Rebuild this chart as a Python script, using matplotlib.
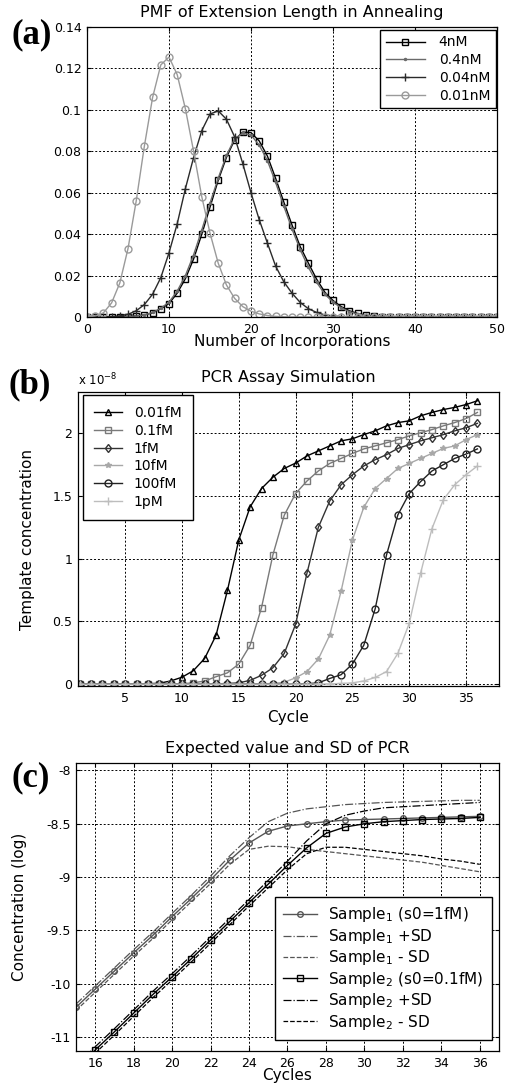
import numpy as np
import matplotlib
matplotlib.use("Agg")
import matplotlib.pyplot as plt

# ---- data ----
# (a) PMF of extension length
incorporations = list(range(0, 51))
pmf_4nM = [0, 0, 0, 0, 0.0001, 0.0002, 0.0005, 0.001, 0.002, 0.004, 0.0065,
           0.0115, 0.0185, 0.028, 0.040, 0.053, 0.066, 0.077, 0.0855, 0.0893, 0.089,
           0.085, 0.0777, 0.067, 0.0555, 0.0444, 0.034, 0.026, 0.0183, 0.012, 0.008,
           0.005, 0.003, 0.0017, 0.0009, 0.0004, 0.0002, 0.0001, 0, 0, 0,
           0, 0, 0, 0, 0, 0, 0, 0, 0, 0]
pmf_04nM = [0, 0, 0, 0, 0.0001, 0.0002, 0.0005, 0.001, 0.0022, 0.0042, 0.0072,
            0.0125, 0.020, 0.030, 0.042, 0.055, 0.067, 0.078, 0.086, 0.0888, 0.0878,
            0.083, 0.0755, 0.065, 0.0535, 0.0425, 0.0325, 0.024, 0.0168, 0.011, 0.0072,
            0.0044, 0.0026, 0.0014, 0.0007, 0.0003, 0.0001, 0, 0, 0, 0,
            0, 0, 0, 0, 0, 0, 0, 0, 0, 0]
pmf_004nM = [0, 0, 0.0001, 0.0002, 0.0005, 0.0013, 0.003, 0.006, 0.011, 0.019, 0.031,
             0.045, 0.062, 0.077, 0.090, 0.098, 0.0995, 0.0955, 0.087, 0.074, 0.060,
             0.047, 0.0357, 0.0246, 0.017, 0.0115, 0.007, 0.004, 0.0022, 0.001, 0.0005,
             0.0002, 0.0001, 0, 0, 0, 0, 0, 0, 0, 0,
             0, 0, 0, 0, 0, 0, 0, 0, 0, 0]
pmf_001nM = [0.0001, 0.0005, 0.002, 0.0068, 0.0164, 0.033, 0.056, 0.0826, 0.106, 0.1217, 0.1255,
             0.117, 0.1005, 0.080, 0.058, 0.0405, 0.026, 0.0155, 0.009, 0.005, 0.0028,
             0.0015, 0.0007, 0.0003, 0.0001, 0, 0, 0, 0, 0, 0,
             0, 0, 0, 0, 0, 0, 0, 0, 0, 0,
             0, 0, 0, 0, 0, 0, 0, 0, 0, 0]

# (b) PCR assay simulation, template concentration in units of 1e-8
cycles_b = list(range(1, 37))
conc_001fM = [0.0001, 0.0001, 0.0002, 0.0004, 0.0008, 0.0016, 0.003, 0.007, 0.025, 0.055,
              0.107, 0.205, 0.39, 0.747, 1.15, 1.414, 1.56, 1.65, 1.72, 1.763,
              1.82, 1.86, 1.90, 1.94, 1.957, 1.99, 2.02, 2.06, 2.086, 2.10,
              2.14, 2.167, 2.19, 2.207, 2.23, 2.26]
conc_01fM = [0, 0, 0, 0, 0.0001, 0.0002, 0.0003, 0.0006, 0.0012, 0.003,
             0.01, 0.025, 0.059, 0.09, 0.16, 0.31, 0.61, 1.03, 1.347, 1.52,
             1.62, 1.70, 1.76, 1.80, 1.84, 1.876, 1.90, 1.925, 1.95, 1.98,
             2.005, 2.03, 2.06, 2.086, 2.118, 2.167]
conc_1fM = [0, 0, 0, 0, 0, 0, 0, 0, 0.0001, 0.0002,
            0.0005, 0.001, 0.002, 0.005, 0.01, 0.03, 0.07, 0.13, 0.245, 0.477,
            0.885, 1.25, 1.46, 1.59, 1.67, 1.74, 1.79, 1.83, 1.88, 1.91,
            1.94, 1.965, 1.99, 2.02, 2.045, 2.08]
conc_10fM = [0, 0, 0, 0, 0, 0, 0, 0, 0, 0,
             0, 0, 0.0001, 0.0002, 0.0004, 0.001, 0.002, 0.005, 0.015, 0.05,
             0.1, 0.2, 0.39, 0.74, 1.15, 1.41, 1.56, 1.64, 1.72, 1.76,
             1.80, 1.84, 1.88, 1.90, 1.95, 1.99]
conc_100fM = [0, 0, 0, 0, 0, 0, 0, 0, 0, 0,
              0, 0, 0, 0, 0, 0, 0.0002, 0.0005, 0.0008, 0.001,
              0.003, 0.01, 0.045, 0.075, 0.16, 0.31, 0.6, 1.03, 1.35, 1.52,
              1.615, 1.70, 1.75, 1.80, 1.835, 1.876]
conc_1pM = [0, 0, 0, 0, 0, 0, 0, 0, 0, 0,
            0, 0, 0, 0, 0, 0, 0, 0, 0, 0.0002,
            0.0005, 0.001, 0.002, 0.005, 0.01, 0.025, 0.053, 0.1, 0.245, 0.485,
            0.885, 1.24, 1.47, 1.59, 1.67, 1.74]

# (c) expected value and SD, log concentration
cycles_c = list(range(15, 37))
s1_mean = [-10.22, -10.05, -9.88, -9.71, -9.545, -9.37, -9.2, -9.025, -8.84, -8.68, -8.57,
           -8.52, -8.50, -8.48, -8.465, -8.46, -8.455, -8.45, -8.445, -8.44, -8.435, -8.43]
s1_plus = [-10.19, -10.02, -9.85, -9.68, -9.515, -9.34, -9.17, -8.99, -8.80, -8.63, -8.48,
           -8.40, -8.36, -8.34, -8.32, -8.31, -8.30, -8.295, -8.29, -8.285, -8.28, -8.28]
s1_minus = [-10.25, -10.08, -9.91, -9.74, -9.575, -9.40, -9.23, -9.06, -8.88, -8.74, -8.71,
            -8.715, -8.74, -8.76, -8.78, -8.80, -8.82, -8.84, -8.86, -8.89, -8.92, -8.95]
s2_mean = [-10.8, -10.62, -10.45, -10.275, -10.10, -9.935, -9.765, -9.59, -9.415, -9.24, -9.065,
           -8.89, -8.725, -8.59, -8.53, -8.50, -8.48, -8.47, -8.46, -8.455, -8.45, -8.44]
s2_plus = [-10.77, -10.59, -10.42, -10.245, -10.07, -9.905, -9.735, -9.56, -9.385, -9.21, -9.03,
           -8.85, -8.66, -8.50, -8.42, -8.38, -8.35, -8.34, -8.33, -8.32, -8.31, -8.30]
s2_minus = [-10.83, -10.65, -10.48, -10.305, -10.13, -9.965, -9.795, -9.62, -9.445, -9.27, -9.10,
            -8.93, -8.78, -8.72, -8.72, -8.74, -8.76, -8.78, -8.80, -8.83, -8.85, -8.88]

W, H = 510, 1091
fig = plt.figure(figsize=(W / 100, H / 100), dpi=100)


def box(left, top, right, bottom):
    # pixel box -> figure fraction
    return [left / W, 1 - bottom / H, (right - left) / W, (bottom - top) / H]


def style_axes(ax):
    ax.grid(True, color="black", linestyle=(0, (2, 2)), linewidth=0.7)
    ax.tick_params(direction="in", top=True, right=True, length=3,
                   labelsize=9, pad=4)
    for s in ax.spines.values():
        s.set_linewidth(0.9)


def fmt(v):
    return "%g" % v


legend_kw = dict(frameon=True, fancybox=False, framealpha=1,
                 edgecolor="black", borderaxespad=0)

# ---- (a) ----
ax1 = fig.add_axes(box(87, 27, 497, 317))
ax1.plot(incorporations, pmf_4nM, "s-", color="black", mfc="none", ms=5, lw=1, label="4nM")
ax1.plot(incorporations, pmf_04nM, ".-", color="#6a6a6a", ms=3, lw=1, label="0.4nM")
ax1.plot(incorporations, pmf_004nM, "+-", color="#2a2a2a", ms=6, lw=1, label="0.04nM")
ax1.plot(incorporations, pmf_001nM, "o-", color="#9a9a9a", mfc="none", ms=5, lw=1, label="0.01nM")
ax1.set_xlim(0, 50)
ax1.set_ylim(0, 0.14)
ax1.set_xticks(range(0, 51, 10))
yt = [0, 0.02, 0.04, 0.06, 0.08, 0.1, 0.12, 0.14]
ax1.set_yticks(yt)
ax1.set_yticklabels([fmt(v) for v in yt])
style_axes(ax1)
ax1.set_title("PMF of Extension Length in Annealing", fontsize=11.5, pad=7)
ax1.set_xlabel("Number of Incorporations", fontsize=11)
ax1.xaxis.set_label_coords(0.5, -0.06)
ax1.xaxis.label.set_va("top")
ax1.legend(loc="upper right", bbox_to_anchor=(0.997, 0.99), fontsize=10,
           handlelength=2.8, labelspacing=0.27, handletextpad=1.0,
           borderpad=0.4, **legend_kw)

# ---- (b) ----
ax2 = fig.add_axes(box(78, 392, 499, 686))
ax2.plot(cycles_b, conc_001fM, "^-", color="black", mfc="none", ms=5, lw=1, label="0.01fM")
ax2.plot(cycles_b, conc_01fM, "s-", color="#7a7a7a", mfc="none", ms=5, lw=1, label="0.1fM")
ax2.plot(cycles_b, conc_1fM, "d-", color="#333333", mfc="none", ms=4.5, lw=1, label="1fM")
ax2.plot(cycles_b, conc_10fM, "*-", color="#a8a8a8", ms=4, lw=1, label="10fM")
ax2.plot(cycles_b, conc_100fM, "o-", color="#222222", mfc="none", ms=5, lw=1, label="100fM")
ax2.plot(cycles_b, conc_1pM, "+-", color="#bdbdbd", ms=6, lw=1, label="1pM")
ax2.set_xlim(0.85, 37.9)
ax2.set_ylim(-0.015, 2.33)
ax2.set_xticks(range(5, 36, 5))
yt = [0, 0.5, 1, 1.5, 2]
ax2.set_yticks(yt)
ax2.set_yticklabels([fmt(v) for v in yt])
style_axes(ax2)
ax2.set_title("PCR Assay Simulation", fontsize=11.5, pad=7)
ax2.set_xlabel("Cycle", fontsize=11)
ax2.xaxis.set_label_coords(0.5, -0.083)
ax2.xaxis.label.set_va("top")
ax2.set_ylabel("Template concentration", fontsize=11)
ax2.yaxis.set_label_coords(-0.102, 0.5)
ax2.text(0.0, 1.012, r"x 10$^{-8}$", transform=ax2.transAxes, fontsize=8.5,
         ha="left", va="bottom")
ax2.legend(loc="upper left", bbox_to_anchor=(0.012, 0.99), fontsize=10,
           handlelength=2.0, labelspacing=0.27, handletextpad=0.85,
           borderpad=0.8, **legend_kw)

# ---- (c) ----
ax3 = fig.add_axes(box(76, 763, 499, 1051))
ax3.plot(cycles_c, s1_mean, "o-", color="#555555", mfc="none", ms=4, lw=1,
         label="Sample$_1$ (s0=1fM)")
ax3.plot(cycles_c, s1_plus, "-.", color="#555555", lw=0.9, label="Sample$_1$ +SD")
ax3.plot(cycles_c, s1_minus, "--", color="#555555", lw=0.9, label="Sample$_1$ - SD")
ax3.plot(cycles_c, s2_mean, "s-", color="black", mfc="none", ms=5, lw=1,
         label="Sample$_2$ (s0=0.1fM)")
ax3.plot(cycles_c, s2_plus, "-.", color="black", lw=0.9, label="Sample$_2$ +SD")
ax3.plot(cycles_c, s2_minus, "--", color="black", lw=0.9, label="Sample$_2$ - SD")
ax3.set_xlim(15, 37)
ax3.set_ylim(-10.63, -7.93)
ax3.set_xticks(range(16, 37, 2))
yt = [-8, -8.5, -9, -9.5, -10, -10.5]
ax3.set_yticks(yt)
ax3.set_yticklabels(["-8", "-8.5", "-9", "-9.5", "-10", "-11"])
style_axes(ax3)
ax3.set_title("Expected value and SD of PCR", fontsize=11.5, pad=7)
ax3.set_xlabel("Cycles", fontsize=11)
ax3.xaxis.set_label_coords(0.5, -0.058)
ax3.xaxis.label.set_va("top")
ax3.set_ylabel("Concentration (log)", fontsize=11)
ax3.yaxis.set_label_coords(-0.116, 0.5)
ax3.legend(loc="lower right", bbox_to_anchor=(0.983, 0.038), fontsize=11,
           handlelength=2.2, labelspacing=0.16, handletextpad=0.75,
           borderpad=0.55, **legend_kw)

# panel letters
for lab, x, y in [("(a)", 12, 35), ("(b)", 9, 385), ("(c)", 12, 778)]:
    fig.text(x / W, 1 - y / H, lab, fontsize=25, fontweight="bold",
             family="Liberation Serif", ha="left", va="center")

fig.savefig("out.png", dpi=100)
